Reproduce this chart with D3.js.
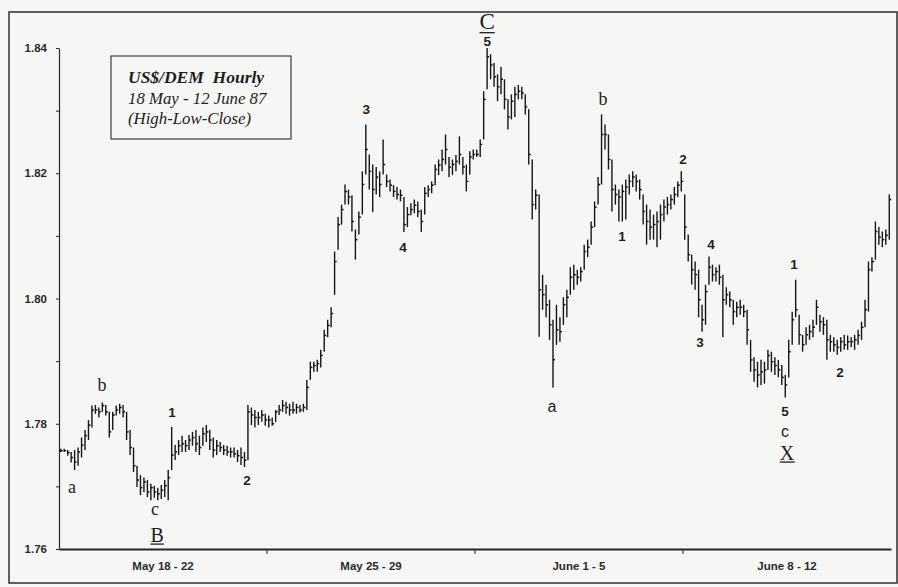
<!DOCTYPE html>
<html><head><meta charset="utf-8">
<script src="https://cdn.jsdelivr.net/npm/d3@7/dist/d3.min.js"></script>
<style>
body{margin:0;background:#f6f6f5}
svg{display:block}
</style>
</head><body>
<svg id="chart" width="898" height="587"></svg>
<script>
// ---- data (US$/DEM hourly) ----
const weeks = ["May 18 - 22", "May 25 - 29", "June 1 - 5", "June 8 - 12"];
const barsPerWeek = 60;
const yTickValues = [1.76, 1.77, 1.78, 1.79, 1.80, 1.81, 1.82, 1.83, 1.84];
const yTickLabels = [1.76, 1.78, 1.80, 1.82, 1.84];

const highPrice = [
 1.7760,1.7760,1.7758,1.7755,1.7758,1.7762,1.7778,1.7790,1.7806,1.7829,
 1.7830,1.7826,1.7834,1.7830,1.7819,1.7819,1.7829,1.7832,1.7830,1.7819,
 1.7790,1.7762,1.7733,1.7718,1.7714,1.7710,1.7704,1.7701,1.7698,1.7702,
 1.7710,1.7726,1.7795,1.7766,1.7774,1.7781,1.7774,1.7782,1.7787,1.7790,
 1.7781,1.7794,1.7798,1.7790,1.7778,1.7774,1.7771,1.7766,1.7765,1.7762,
 1.7762,1.7758,1.7762,1.7755,1.7830,1.7826,1.7822,1.7819,1.7822,1.7816,
 1.7813,1.7810,1.7822,1.7830,1.7838,1.7835,1.7832,1.7835,1.7832,1.7830,
 1.7832,1.7870,1.7899,1.7899,1.7902,1.7918,1.7950,1.7966,1.7986,1.8075,
 1.8130,1.8150,1.8182,1.8174,1.8165,1.8110,1.8139,1.8203,1.8278,1.8230,
 1.8214,1.8210,1.8203,1.8254,1.8198,1.8190,1.8181,1.8178,1.8174,1.8162,
 1.8146,1.8152,1.8158,1.8155,1.8142,1.8178,1.8181,1.8187,1.8214,1.8222,
 1.8238,1.8262,1.8226,1.8222,1.8229,1.8259,1.8226,1.8214,1.8235,1.8238,
 1.8238,1.8254,1.8331,1.8400,1.8390,1.8376,1.8358,1.8370,1.8350,1.8318,
 1.8326,1.8338,1.8341,1.8338,1.8326,1.8302,1.8222,1.8174,1.8166,1.8038,
 1.8022,1.7998,1.7966,1.7990,1.7970,1.8002,1.8014,1.8050,1.8054,1.8046,
 1.8050,1.8086,1.8094,1.8123,1.8155,1.8194,1.8294,1.8278,1.8262,1.8222,
 1.8182,1.8174,1.8182,1.8190,1.8198,1.8203,1.8198,1.8190,1.8166,1.8150,
 1.8142,1.8134,1.8139,1.8150,1.8158,1.8162,1.8166,1.8178,1.8187,1.8203,
 1.8166,1.8102,1.8070,1.8059,1.8046,1.7990,1.8022,1.8067,1.8054,1.8050,
 1.8054,1.8038,1.8018,1.8011,1.7998,1.7995,1.7998,1.7990,1.7982,1.7934,
 1.7906,1.7899,1.7902,1.7899,1.7918,1.7915,1.7906,1.7902,1.7894,1.7878,
 1.7934,1.7979,1.8030,1.7974,1.7942,1.7954,1.7958,1.7966,1.7998,1.7974,
 1.7970,1.7966,1.7942,1.7938,1.7934,1.7938,1.7942,1.7941,1.7938,1.7942,
 1.7950,1.7963,1.7998,1.8059,1.8066,1.8123,1.8114,1.8107,1.8110,1.8166
];
const lowPrice = [
 1.7755,1.7755,1.7749,1.7738,1.7726,1.7733,1.7746,1.7758,1.7774,1.7794,
 1.7816,1.7810,1.7819,1.7813,1.7778,1.7790,1.7813,1.7816,1.7810,1.7774,
 1.7750,1.7723,1.7699,1.7686,1.7691,1.7683,1.7678,1.7682,1.7678,1.7680,
 1.7683,1.7678,1.7726,1.7742,1.7750,1.7755,1.7755,1.7758,1.7765,1.7755,
 1.7750,1.7765,1.7771,1.7758,1.7746,1.7750,1.7755,1.7750,1.7749,1.7746,
 1.7746,1.7739,1.7734,1.7731,1.7742,1.7798,1.7794,1.7798,1.7803,1.7797,
 1.7794,1.7797,1.7803,1.7814,1.7819,1.7816,1.7813,1.7816,1.7816,1.7818,
 1.7819,1.7822,1.7870,1.7883,1.7883,1.7890,1.7915,1.7938,1.7954,1.8006,
 1.8078,1.8118,1.8150,1.8150,1.8107,1.8062,1.8102,1.8134,1.8198,1.8174,
 1.8138,1.8166,1.8162,1.8198,1.8178,1.8171,1.8162,1.8158,1.8155,1.8106,
 1.8114,1.8133,1.8136,1.8130,1.8106,1.8134,1.8162,1.8168,1.8181,1.8197,
 1.8203,1.8214,1.8194,1.8197,1.8203,1.8214,1.8198,1.8171,1.8198,1.8222,
 1.8226,1.8226,1.8254,1.8334,1.8350,1.8338,1.8315,1.8326,1.8302,1.8270,
 1.8286,1.8290,1.8318,1.8318,1.8294,1.8214,1.8126,1.8142,1.7939,1.7982,
 1.7970,1.7934,1.7858,1.7926,1.7931,1.7958,1.7970,1.8006,1.8014,1.8022,
 1.8027,1.8046,1.8066,1.8086,1.8114,1.8150,1.8182,1.8238,1.8206,1.8139,
 1.8150,1.8123,1.8123,1.8126,1.8166,1.8178,1.8171,1.8158,1.8118,1.8086,
 1.8094,1.8094,1.8082,1.8094,1.8123,1.8134,1.8142,1.8150,1.8162,1.8171,
 1.8094,1.8059,1.8022,1.8014,1.7970,1.7947,1.7958,1.8022,1.8027,1.8027,
 1.8022,1.7938,1.7990,1.7986,1.7958,1.7970,1.7974,1.7970,1.7926,1.7883,
 1.7867,1.7858,1.7862,1.7864,1.7886,1.7883,1.7878,1.7874,1.7862,1.7842,
 1.7874,1.7926,1.7970,1.7926,1.7915,1.7926,1.7934,1.7938,1.7958,1.7947,
 1.7942,1.7902,1.7915,1.7915,1.7910,1.7915,1.7918,1.7918,1.7922,1.7918,
 1.7926,1.7934,1.7954,1.7979,1.8043,1.8062,1.8086,1.8082,1.8086,1.8094
];
const closePrice = [
 1.7757,1.7757,1.7754,1.7746,1.7739,1.7755,1.7766,1.7781,1.7798,1.7822,
 1.7822,1.7819,1.7829,1.7819,1.7787,1.7814,1.7822,1.7826,1.7819,1.7787,
 1.7762,1.7733,1.7710,1.7698,1.7707,1.7691,1.7698,1.7691,1.7688,1.7694,
 1.7701,1.7714,1.7750,1.7755,1.7765,1.7768,1.7765,1.7774,1.7778,1.7768,
 1.7762,1.7784,1.7787,1.7774,1.7758,1.7765,1.7762,1.7758,1.7755,1.7755,
 1.7752,1.7749,1.7746,1.7742,1.7819,1.7814,1.7810,1.7810,1.7814,1.7806,
 1.7806,1.7800,1.7819,1.7822,1.7829,1.7826,1.7822,1.7822,1.7826,1.7822,
 1.7826,1.7858,1.7890,1.7893,1.7896,1.7909,1.7941,1.7957,1.7976,1.8059,
 1.8118,1.8142,1.8171,1.8162,1.8123,1.8094,1.8130,1.8182,1.8238,1.8203,
 1.8174,1.8194,1.8182,1.8214,1.8187,1.8181,1.8171,1.8166,1.8165,1.8118,
 1.8134,1.8142,1.8149,1.8139,1.8123,1.8168,1.8174,1.8181,1.8206,1.8213,
 1.8222,1.8238,1.8210,1.8214,1.8219,1.8230,1.8210,1.8187,1.8226,1.8230,
 1.8230,1.8246,1.8318,1.8386,1.8373,1.8354,1.8338,1.8350,1.8318,1.8290,
 1.8315,1.8326,1.8331,1.8328,1.8306,1.8230,1.8150,1.8165,1.8014,1.8006,
 1.7990,1.7958,1.7902,1.7950,1.7947,1.7990,1.8002,1.8034,1.8038,1.8034,
 1.8043,1.8075,1.8082,1.8114,1.8146,1.8182,1.8262,1.8262,1.8222,1.8174,
 1.8166,1.8162,1.8171,1.8178,1.8187,1.8194,1.8187,1.8174,1.8139,1.8123,
 1.8114,1.8118,1.8123,1.8134,1.8146,1.8150,1.8158,1.8166,1.8181,1.8187,
 1.8114,1.8070,1.8046,1.8038,1.7998,1.7966,1.8011,1.8050,1.8038,1.8043,
 1.8034,1.7998,1.8006,1.7998,1.7979,1.7986,1.7986,1.7979,1.7950,1.7902,
 1.7886,1.7878,1.7883,1.7886,1.7909,1.7899,1.7893,1.7886,1.7874,1.7862,
 1.7915,1.7966,1.7982,1.7942,1.7926,1.7942,1.7947,1.7954,1.7986,1.7963,
 1.7958,1.7934,1.7931,1.7926,1.7922,1.7931,1.7926,1.7931,1.7931,1.7934,
 1.7941,1.7954,1.7982,1.8046,1.8059,1.8107,1.8098,1.8094,1.8101,1.8158
];

// Elliott-wave annotations: text, bar position, price, font kind
const waveText  = ["a","b","c","B","1","2","3","4","C","5","a","b","1","2","4","3","1","5","c","X","2"];
const wavePos   = [3.75,12.4,27.7,28.3,32.6,54.2,88.6,99.2,123.5,123.5,142.2,156.9,162.4,180.0,188.1,184.9,212.0,209.4,209.4,210.0,225.3];
const wavePrice = [1.7699,1.7862,1.7664,1.7623,1.7818,1.7710,1.8302,1.8082,1.8442,1.8411,1.7827,1.8318,1.8099,1.8222,1.8086,1.7930,1.8054,1.7820,1.7788,1.7754,1.7882];
const waveKind  = ["s","s","s","S","n","n","n","n","C","n","a","s","n","n","n","n","n","n","a","S","n"];

const titleLines = ["US$/DEM\u00a0\u00a0Hourly", "18 May - 12 June 87", "(High-Low-Close)"];

// ---- drawing ----
const svg = d3.select("#chart");
const W = 898, H = 587;
const mL = 59, mR = 891, mT = 48, mB = 549;
const ink = "#262626";

svg.append("rect").attr("x",0).attr("y",0).attr("width",W).attr("height",H).attr("fill","#f6f6f5");
svg.append("rect").attr("x",9).attr("y",12).attr("width",888).attr("height",571)
  .attr("fill","none").attr("stroke","#3a3a3a").attr("stroke-width",1.6);

const n = highPrice.length;
const x = d3.scaleLinear().domain([0, n]).range([mL, mR]);
const y = d3.scaleLinear().domain([1.76, 1.84]).range([mB, mT]);
const xw = d3.scaleBand().domain(weeks).range([mL, mR]);

// y axis
const yAxis = d3.axisLeft(y).tickValues(yTickValues).tickSize(3).tickSizeOuter(0).tickPadding(9)
  .tickFormat(v => yTickLabels.some(t => Math.abs(t - v) < 1e-9) ? d3.format(".2f")(v) : "");
const gy = svg.append("g").attr("transform", `translate(${mL},0)`).call(yAxis);
gy.select(".domain").attr("stroke", ink).attr("stroke-width", 1.2);
gy.selectAll(".tick line").attr("stroke", ink);
gy.selectAll(".tick text").attr("fill", "#2a2a2a")
  .style("font-family", "'Liberation Sans', Arial, sans-serif").style("font-weight", "bold").style("font-size", "11.5px");

// x axis
const xAxis = d3.axisBottom(xw).tickSize(0).tickPadding(13);
const gx = svg.append("g").attr("transform", `translate(0,${mB})`).call(xAxis);
gx.select(".domain").attr("stroke", ink).attr("stroke-width", 2.2);
gx.selectAll(".tick text").attr("fill", "#2a2a2a")
  .style("font-family", "'Liberation Sans', Arial, sans-serif").style("font-weight", "bold").style("font-size", "11.5px");
svg.append("g").selectAll("line").data(d3.range(1, weeks.length)).join("line")
  .attr("x1", d => x(d * barsPerWeek)).attr("x2", d => x(d * barsPerWeek))
  .attr("y1", mB).attr("y2", mB + 5).attr("stroke", ink).attr("stroke-width", 1);

// HLC bars
const bars = svg.append("g").attr("stroke", "#151515");
bars.selectAll("line.hl").data(d3.range(n)).join("line").attr("class","hl")
  .attr("x1", i => x(i + 0.5)).attr("x2", i => x(i + 0.5))
  .attr("y1", i => y(highPrice[i])).attr("y2", i => y(lowPrice[i]))
  .attr("stroke-width", 1.4);
bars.selectAll("line.cl").data(d3.range(n)).join("line").attr("class","cl")
  .attr("x1", i => x(i + 0.5)).attr("x2", i => x(i + 0.5) + 2)
  .attr("y1", i => y(closePrice[i])).attr("y2", i => y(closePrice[i]))
  .attr("stroke-width", 1.5);

// title box
svg.append("rect").attr("x",111).attr("y",56).attr("width",180).attr("height",83)
  .attr("fill","none").attr("stroke","#3c3c3c").attr("stroke-width",1.2);
const tt = svg.append("g").style("font-family","'Liberation Serif', 'Times New Roman', serif")
  .style("font-style","italic").attr("fill","#1e1e1e");
tt.selectAll("text").data(titleLines).join("text")
  .attr("x", 128).attr("y", (d, i) => 83 + i * 20.5)
  .style("font-size", (d, i) => i === 0 ? "17.5px" : "16.8px")
  .style("font-weight", (d, i) => i === 0 ? "bold" : "normal")
  .text(d => d);

// wave labels
const fontFor = k => ({
  s: ["'Liberation Serif', serif", "normal", 18],
  S: ["'Liberation Serif', serif", "normal", 20],
  C: ["'Liberation Serif', serif", "normal", 23],
  n: ["'Liberation Sans', Arial, sans-serif", "bold", 13.5],
  a: ["'Liberation Sans', Arial, sans-serif", "normal", 16]
})[k];
const wl = svg.append("g").attr("fill", "#1e1e1e");
waveText.forEach((t, i) => {
  const f = fontFor(waveKind[i]);
  const tx = wl.append("text")
    .attr("x", x(wavePos[i])).attr("y", y(wavePrice[i]))
    .attr("text-anchor", "middle").attr("dominant-baseline", "central")
    .style("font-family", f[0]).style("font-weight", f[1]).style("font-size", f[2] + "px")
    .text(t);
  if (waveKind[i] === "S" || waveKind[i] === "C") {
    const b = tx.node().getBBox();
    wl.append("line").attr("x1", b.x).attr("x2", b.x + b.width)
      .attr("y1", b.y + b.height - 1.5).attr("y2", b.y + b.height - 1.5)
      .attr("stroke", "#1e1e1e").attr("stroke-width", 1.3);
  }
});
</script>
</body></html>
